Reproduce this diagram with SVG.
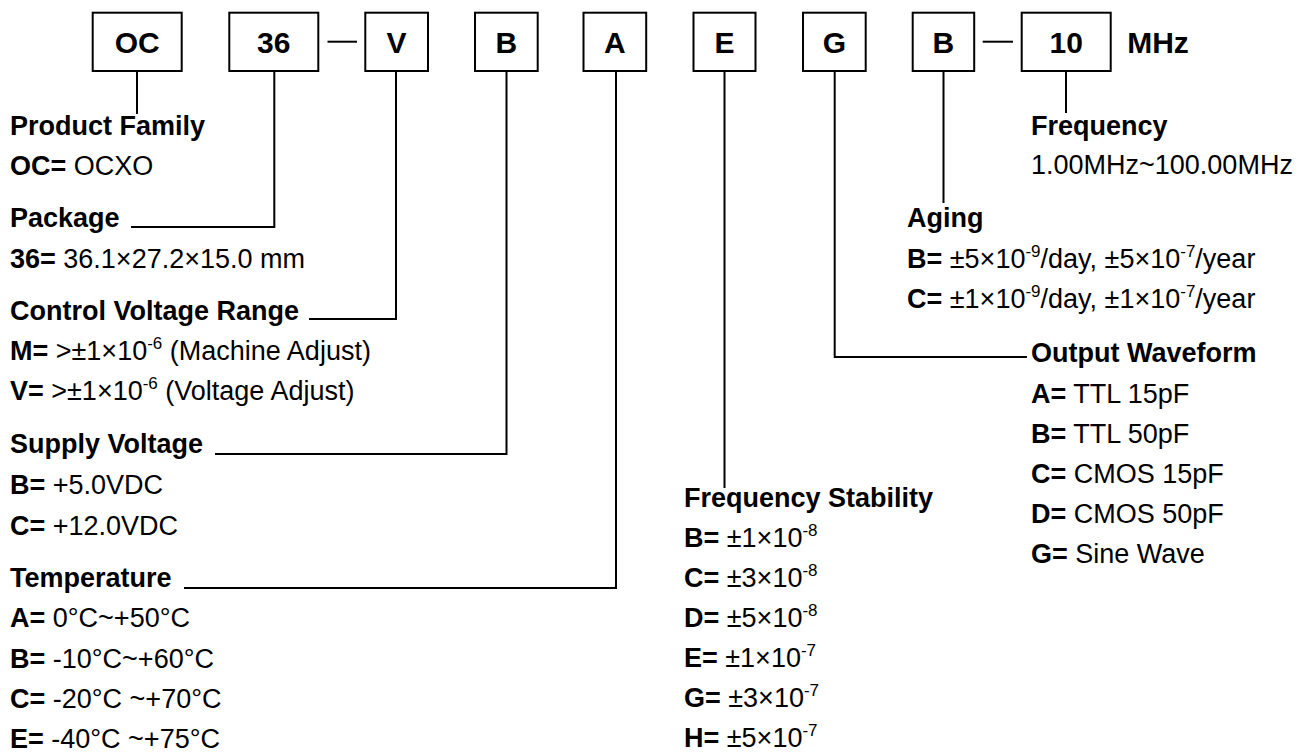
<svg xmlns="http://www.w3.org/2000/svg" width="1311" height="753" viewBox="0 0 1311 753">
<style>
text{font-family:"Liberation Sans",Arial,sans-serif;fill:#000}
.box{fill:#fff;stroke:#000;stroke-width:2}
.code{font-size:30px;font-weight:bold;text-anchor:middle}
.h{font-size:27px;font-weight:bold}
.t{font-size:27px}
.b{font-weight:bold}
.sup{font-size:17px}
.ln{fill:none;stroke:#000;stroke-width:2}
</style>
<rect width="1311" height="753" fill="#fff"/>
<g id="connectors">
<path class="ln" d="M137,71V114"/>
<path class="ln" d="M274.3,71V227H131"/>
<path class="ln" d="M396,71V319H309"/>
<path class="ln" d="M506.5,71V454H215"/>
<path class="ln" d="M616,71V588H184"/>
<path class="ln" d="M724.5,71V488"/>
<path class="ln" d="M834.7,71V357H1027"/>
<path class="ln" d="M943.5,71V203"/>
<path class="ln" d="M1066,71V113"/>
<path class="ln" d="M327.5,41.7H357"/>
<path class="ln" d="M982.7,41.7H1013"/>
</g>
<g id="node-oc"><rect class="box" x="92.7" y="12.7" width="89" height="58.3"/><text class="code" x="137.2" y="53">OC</text></g>
<g id="node-36"><rect class="box" x="229.3" y="12.7" width="89" height="58.3"/><text class="code" x="273.8" y="53">36</text></g>
<g id="node-v"><rect class="box" x="365.3" y="12.7" width="62.7" height="58.3"/><text class="code" x="396.6" y="53">V</text></g>
<g id="node-b1"><rect class="box" x="475" y="12.7" width="62.7" height="58.3"/><text class="code" x="506.3" y="53">B</text></g>
<g id="node-a"><rect class="box" x="583.5" y="12.7" width="62.7" height="58.3"/><text class="code" x="614.8" y="53">A</text></g>
<g id="node-e"><rect class="box" x="693.5" y="12.7" width="62" height="58.3"/><text class="code" x="724.5" y="53">E</text></g>
<g id="node-g"><rect class="box" x="803" y="12.7" width="62.7" height="58.3"/><text class="code" x="834.3" y="53">G</text></g>
<g id="node-b2"><rect class="box" x="912.7" y="12.7" width="61.5" height="58.3"/><text class="code" x="943.4" y="53">B</text></g>
<g id="node-10"><rect class="box" x="1021.7" y="12.7" width="89" height="58.3"/><text class="code" x="1066.2" y="53">10</text></g>
<g id="unit"><text class="code" x="1158" y="53">MHz</text></g>

<g id="legend-left">
<text class="h" x="10" y="135">Product Family</text>
<text class="t" x="10" y="175"><tspan class="b">OC=</tspan> OCXO</text>
<text class="h" x="10" y="227">Package</text>
<text class="t" x="10" y="268"><tspan class="b">36=</tspan> 36.1×27.2×15.0 mm</text>
<text class="h" x="10" y="320">Control Voltage Range</text>
<text class="t" x="10" y="360"><tspan class="b">M=</tspan> &gt;±1×10<tspan class="sup" dy="-11">-6</tspan><tspan dy="11"> (Machine Adjust)</tspan></text>
<text class="t" x="10" y="400"><tspan class="b">V=</tspan> &gt;±1×10<tspan class="sup" dy="-11">-6</tspan><tspan dy="11"> (Voltage Adjust)</tspan></text>
<text class="h" x="10" y="453">Supply Voltage</text>
<text class="t" x="10" y="494"><tspan class="b">B=</tspan> +5.0VDC</text>
<text class="t" x="10" y="535"><tspan class="b">C=</tspan> +12.0VDC</text>
<text class="h" x="10" y="587">Temperature</text>
<text class="t" x="10" y="627"><tspan class="b">A=</tspan> 0°C~+50°C</text>
<text class="t" x="10" y="668"><tspan class="b">B=</tspan> -10°C~+60°C</text>
<text class="t" x="10" y="708"><tspan class="b">C=</tspan> -20°C ~+70°C</text>
<text class="t" x="10" y="748"><tspan class="b">E=</tspan> -40°C ~+75°C</text>
</g>

<g id="legend-stability">
<text class="h" x="684" y="507">Frequency Stability</text>
<text class="t" x="684" y="547"><tspan class="b">B=</tspan> ±1×10<tspan class="sup" dy="-11">-8</tspan></text>
<text class="t" x="684" y="587"><tspan class="b">C=</tspan> ±3×10<tspan class="sup" dy="-11">-8</tspan></text>
<text class="t" x="684" y="627"><tspan class="b">D=</tspan> ±5×10<tspan class="sup" dy="-11">-8</tspan></text>
<text class="t" x="684" y="667"><tspan class="b">E=</tspan> ±1×10<tspan class="sup" dy="-11">-7</tspan></text>
<text class="t" x="684" y="707"><tspan class="b">G=</tspan> ±3×10<tspan class="sup" dy="-11">-7</tspan></text>
<text class="t" x="684" y="747"><tspan class="b">H=</tspan> ±5×10<tspan class="sup" dy="-11">-7</tspan></text>
</g>

<g id="legend-frequency">
<text class="h" x="1031" y="135">Frequency</text>
<text class="t" x="1031" y="174">1.00MHz~100.00MHz</text>
</g>

<g id="legend-aging">
<text class="h" x="907" y="227">Aging</text>
<text class="t" x="907" y="268"><tspan class="b">B=</tspan> ±5×10<tspan class="sup" dy="-11">-9</tspan><tspan dy="11">/day, ±5×10</tspan><tspan class="sup" dy="-11">-7</tspan><tspan dy="11">/year</tspan></text>
<text class="t" x="907" y="308"><tspan class="b">C=</tspan> ±1×10<tspan class="sup" dy="-11">-9</tspan><tspan dy="11">/day, ±1×10</tspan><tspan class="sup" dy="-11">-7</tspan><tspan dy="11">/year</tspan></text>
</g>

<g id="legend-output">
<text class="h" x="1031" y="362">Output Waveform</text>
<text class="t" x="1031" y="403"><tspan class="b">A=</tspan> TTL 15pF</text>
<text class="t" x="1031" y="443"><tspan class="b">B=</tspan> TTL 50pF</text>
<text class="t" x="1031" y="483"><tspan class="b">C=</tspan> CMOS 15pF</text>
<text class="t" x="1031" y="523"><tspan class="b">D=</tspan> CMOS 50pF</text>
<text class="t" x="1031" y="563"><tspan class="b">G=</tspan> Sine Wave</text>
</g>
</svg>
